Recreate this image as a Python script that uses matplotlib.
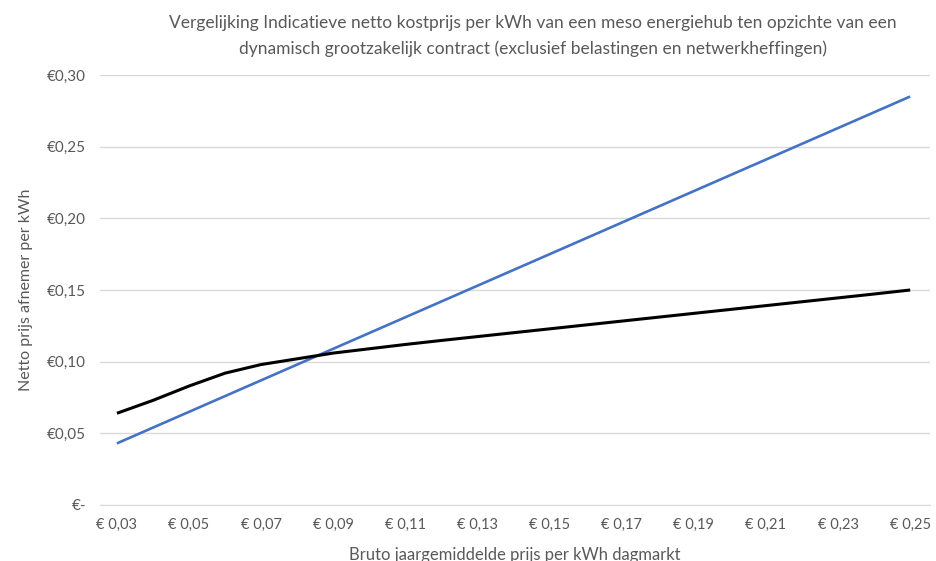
import matplotlib.pyplot as plt
import numpy as np

# bruto prijs per kWh (dagmarkt), stap 0,01
prijs = [0.03, 0.04, 0.05, 0.06, 0.07, 0.08, 0.09, 0.10, 0.11, 0.12, 0.13, 0.14,
         0.15, 0.16, 0.17, 0.18, 0.19, 0.20, 0.21, 0.22, 0.23, 0.24, 0.25]
# dynamisch grootzakelijk contract
contract = [0.043, 0.054, 0.065, 0.076, 0.087, 0.098, 0.109, 0.120, 0.131, 0.142,
            0.153, 0.164, 0.175, 0.186, 0.197, 0.208, 0.219, 0.230, 0.241, 0.252,
            0.263, 0.274, 0.285]
# meso energiehub
energiehub = [0.064, 0.073, 0.083, 0.092, 0.098, 0.102, 0.106, 0.109, 0.112, 0.1148,
              0.1175, 0.1202, 0.1229, 0.1256, 0.1283, 0.131, 0.1337, 0.1364, 0.1391, 0.1418,
              0.1445, 0.1472, 0.150]
y_ticks = [0, 0.05, 0.10, 0.15, 0.20, 0.25, 0.30]
y_labels = ['€-', '€0,05', '€0,10', '€0,15', '€0,20', '€0,25', '€0,30']

grey = '#595959'
plt.rcParams['font.family'] = ['Lato', 'DejaVu Sans']

fig = plt.figure(figsize=(9.36, 5.61), dpi=100)
ax = fig.add_axes([100 / 936, 56 / 561, 830 / 936, 430 / 561])

x = np.arange(len(prijs))
ax.plot(x, contract, color='#4472C4', linewidth=1.9, solid_capstyle='butt')
ax.plot(x, energiehub, color='black', linewidth=2.2, solid_capstyle='butt')

ax.set_xlim(-0.47, len(prijs) - 0.45)
ax.set_ylim(0, 0.30)
ax.set_yticks(y_ticks)
ax.set_yticklabels(y_labels)
xt = x[::2]
ax.set_xticks(xt)
ax.set_xticklabels(['€ ' + ('%.2f' % prijs[i]).replace('.', ',') for i in xt])

ax.grid(axis='y', color='#D9D9D9', linewidth=1)
ax.set_axisbelow(True)
for s in ['top', 'right', 'left']:
    ax.spines[s].set_visible(False)
ax.spines['bottom'].set_color('#D9D9D9')
ax.tick_params(length=0, colors=grey)
ax.tick_params(axis='y', pad=10, labelsize=11)
ax.tick_params(axis='x', pad=9, labelsize=10.5)

ax.set_xlabel('Bruto jaargemiddelde prijs per kWh dagmarkt', color=grey, fontsize=12, labelpad=11)
ax.set_ylabel('Netto prijs afnemer per kWh', color=grey, fontsize=11.5, labelpad=10)
fig.text(0.569, 0.974, 'Vergelijking Indicatieve netto kostprijs per kWh van een meso energiehub ten opzichte van een\n'
         'dynamisch grootzakelijk contract (exclusief belastingen en netwerkheffingen)',
         ha='center', va='top', color=grey, fontsize=12.5, linespacing=1.75)

plt.savefig('out.png')
